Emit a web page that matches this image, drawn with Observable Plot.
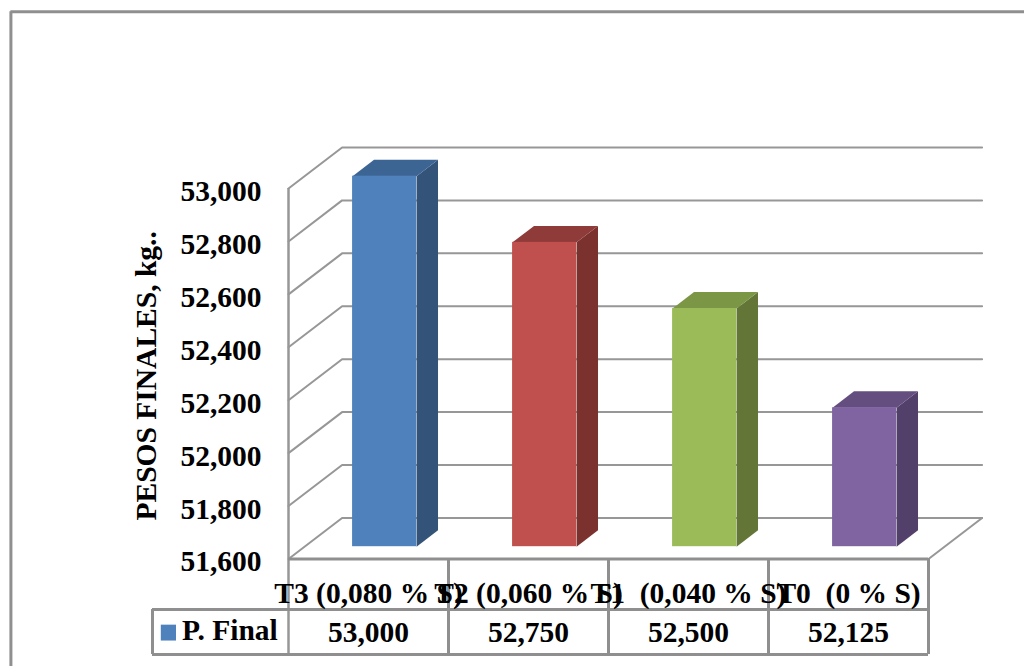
<!DOCTYPE html>
<html>
<head>
<meta charset="utf-8">
<script src="https://cdn.jsdelivr.net/npm/d3@7"></script>
<script src="https://cdn.jsdelivr.net/npm/@observablehq/plot@0.6"></script>
<style>
  html, body { margin: 0; padding: 0; background: #fff; overflow: hidden; }
  svg { display: block; }
</style>
</head>
<body>
<div id="chart"></div>
<script>
// Final weights per treatment
const categories = ["T3 (0,080 % S)", "T2 (0,060 % S)", "T1  (0,040 % S)", "T0  (0 % S)"];
const finalWeights = [53000, 52750, 52500, 52125];
const yTicks = [51600, 51800, 52000, 52200, 52400, 52600, 52800, 53000];
const yTitle = "PESOS FINALES, kg..";
const seriesName = "P. Final";

// Face colours of each box: front, side, top
const frontColors = ["#4f81bd", "#c0504d", "#9bbb59", "#8064a2"];
const sideColors = ["#335379", "#7b322f", "#637637", "#53406a"];
const topColors = ["#3d6594", "#8f3b39", "#7b9746", "#644e80"];

const gridColor = "#979797";
const tableColor = "#8f8f8f";
const font = "'Liberation Serif', serif";
const textSize = 29.5;
const fmt = d3.format(",");

// Oblique projection: going from the front plane to the back wall moves a
// point right and up, expressed here in scale units.
const depthX = 0.335;
const depthY = 155;
const project = (x, y, d) => ({x: x + d * depthX, y: y + d * depthY});

// Depth and width of the boxes within their category slot
const boxFront = 0.3, boxBack = 0.7, boxWidth = 0.4;
const yBase = yTicks[0];

const frontFaces = [], boxPolys = [];
finalWeights.forEach((v, i) => {
  const x0 = i + (1 - boxWidth) / 2, x1 = x0 + boxWidth;
  const a = project(x0, yBase, boxFront), b = project(x1, v, boxFront);
  frontFaces.push({x1: a.x, x2: b.x, y1: a.y, y2: b.y, fill: frontColors[i]});
  const side = [[x1, yBase, boxFront], [x1, yBase, boxBack], [x1, v, boxBack], [x1, v, boxFront]];
  const top = [[x0, v, boxFront], [x1, v, boxFront], [x1, v, boxBack], [x0, v, boxBack]];
  side.forEach(p => boxPolys.push({...project(...p), face: "side" + i, fill: sideColors[i]}));
  top.forEach(p => boxPolys.push({...project(...p), face: "top" + i, fill: topColors[i]}));
});

// Wall and floor lines: along the left wall, then across the back wall
const gridPts = [];
yTicks.forEach(t => {
  gridPts.push({...project(0, t, 0), t}, {...project(0, t, 1), t}, {...project(4, t, 1), t});
});
const floorEdge = [project(4, yBase, 1), project(4, yBase, 0)];

// Rows of the data table below the axis, in y-scale units
const labelRowY = 51469, tableRowTop = 51409, tableMidY = 51322, tableBottom = 51239;
const tableLeft = -0.85, frameLeft = -1.735, frameTop = 53668;
const tableEdges = [0, 1, 2, 3, 4];

const chart = Plot.plot({
  width: 1024,
  height: 666,
  marginLeft: 288,
  marginRight: 96,
  marginTop: 188,
  marginBottom: 107.5,
  style: {fontFamily: font, whiteSpace: "pre", background: "#fff", color: "#000"},
  x: {domain: [0, 4], axis: null},
  y: {domain: [yBase, 53000], axis: null},
  marks: [
    // Chart area border
    Plot.ruleX([frameLeft], {y1: 50000, y2: frameTop, stroke: tableColor, strokeWidth: 3}),
    Plot.ruleY([frameTop], {x1: frameLeft, x2: 6, stroke: tableColor, strokeWidth: 3}),

    // Walls and floor
    Plot.line(gridPts, {x: "x", y: "y", z: "t", stroke: gridColor, strokeWidth: 2}),
    Plot.line(floorEdge, {x: "x", y: "y", stroke: gridColor, strokeWidth: 2}),
    Plot.ruleX([0], {y1: tableBottom, y2: 53000, stroke: gridColor, strokeWidth: 2.5}),

    // Boxes
    Plot.line(boxPolys, {x: "x", y: "y", z: "face", fill: d => d.fill, stroke: "none", curve: "linear-closed"}),
    Plot.rect(frontFaces, {x1: "x1", x2: "x2", y1: "y1", y2: "y2", fill: d => d.fill, inset: 0}),

    // Value axis and its title
    Plot.axisY(yTicks, {
      anchor: "left", tickSize: 0, tickPadding: 27, tickFormat: fmt, label: null,
      fontSize: textSize, fontWeight: "bold", fontFamily: font, dy: 3, fill: "#000"
    }),
    Plot.text([yTitle], {
      x: [-0.885], y: [52292], text: d => d, rotate: -90,
      fontSize: textSize, fontWeight: "bold", fontFamily: font, fill: "#000"
    }),

    // Data table grid
    Plot.ruleY([yBase], {x1: 0, x2: 4, stroke: tableColor, strokeWidth: 3}),
    Plot.ruleY([tableRowTop, tableBottom], {x1: tableLeft, x2: 4, stroke: tableColor, strokeWidth: 3}),
    Plot.ruleX(tableEdges.slice(1), {y1: tableBottom, y2: yBase, stroke: tableColor, strokeWidth: 3}),
    Plot.ruleX([tableLeft], {y1: tableBottom, y2: tableRowTop, stroke: tableColor, strokeWidth: 3}),

    // Category labels and values
    Plot.text(categories, {
      x: (d, i) => i + 0.5, y: labelRowY, text: d => d,
      fontSize: textSize, fontWeight: "bold", fontFamily: font, fill: "#000"
    }),
    Plot.text(finalWeights, {
      x: (d, i) => i + 0.5, y: tableMidY, text: d => fmt(d),
      fontSize: textSize, fontWeight: "bold", fontFamily: font, fill: "#000"
    }),

    // Legend key in the table
    Plot.rect([seriesName], {
      x1: [-0.795], x2: [-0.7], y1: [51290], y2: [51350], fill: frontColors[0], inset: 0
    }),
    Plot.text([seriesName], {
      x: [-0.665], y: [tableMidY + 8], text: d => d, textAnchor: "start",
      fontSize: textSize, fontWeight: "bold", fontFamily: font, fill: "#000"
    })
  ]
});
document.getElementById("chart").append(chart);
</script>
</body>
</html>
